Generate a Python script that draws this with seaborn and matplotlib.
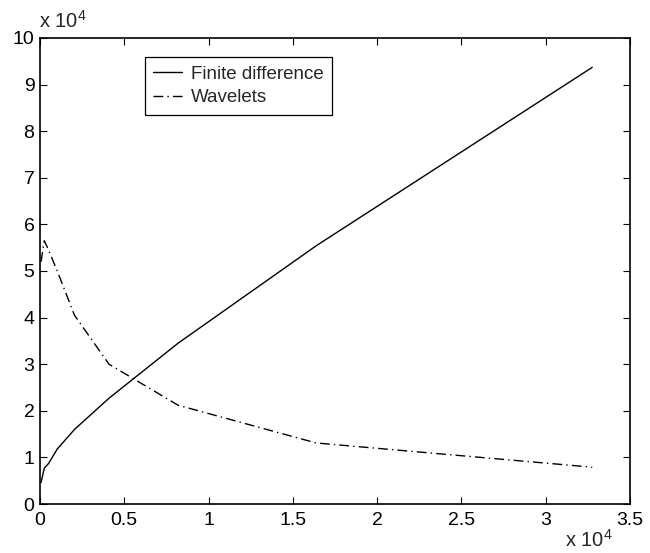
import matplotlib
matplotlib.use("Agg")
import matplotlib.pyplot as plt
import seaborn as sns
import pandas as pd

# Problem size (units of 1e4) and cost (units of 1e4) for both methods
sizes = [0.0064, 0.0256, 0.0512, 0.1024, 0.2048, 0.4096, 0.8192, 1.6384, 3.2768]
finite_difference = [0.46, 0.77, 0.87, 1.18, 1.60, 2.27, 3.45, 5.54, 9.37]
wavelets = [5.20, 5.65, 5.45, 5.00, 4.05, 3.00, 2.12, 1.31, 0.79]
series_names = ["Finite difference", "Wavelets"]
x_ticks = [0, 0.5, 1, 1.5, 2, 2.5, 3, 3.5]
y_ticks = [0, 1, 2, 3, 4, 5, 6, 7, 8, 9, 10]

df = pd.DataFrame({
    "size": sizes * 2,
    "cost": finite_difference + wavelets,
    "method": [series_names[0]] * len(sizes) + [series_names[1]] * len(sizes),
})

sns.set_style("ticks")
plt.rcParams["font.family"] = ["Liberation Sans", "DejaVu Sans"]
plt.rcParams["mathtext.fontset"] = "custom"
plt.rcParams["mathtext.rm"] = "Liberation Sans"

fig = plt.figure(figsize=(6.5, 5.53), dpi=100)
ax = fig.add_axes([0.0615, 0.0886, 0.9075, 0.8427])

sns.lineplot(
    data=df, x="size", y="cost", style="method", ax=ax,
    color="black", linewidth=1.0, estimator=None, sort=False,
    dashes={series_names[0]: "", series_names[1]: (7, 3, 1, 3)},
    legend=False,
)

ax.set_xlim(0, 3.5)
ax.set_ylim(0, 10)
ax.set_xticks(x_ticks)
ax.set_yticks(y_ticks)
ax.set_xticklabels([f"{t:g}" for t in x_ticks])
ax.set_yticklabels([f"{t:g}" for t in y_ticks])
ax.set_xlabel("")
ax.set_ylabel("")
ax.tick_params(direction="in", length=5, width=0.8, labelsize=14,
               top=True, right=True, colors="black")
ax.tick_params(axis="x", pad=6)
ax.tick_params(axis="y", pad=4)
for s in ax.spines.values():
    s.set_visible(True)
    s.set_linewidth(1.2)
    s.set_color("black")

# Legend with a plain rectangular frame
lines = ax.get_lines()
leg = ax.legend(lines[:2], series_names, loc="upper left",
                bbox_to_anchor=(0.178, 0.959), borderaxespad=0,
                fontsize=13.5, frameon=True, fancybox=False,
                edgecolor="black", framealpha=1, handlelength=1.5,
                borderpad=0.45, labelspacing=0.35, handletextpad=0.5)
leg.get_frame().set_linewidth(0.9)

# Exponent annotations for both axes
fig.text(0.060, 0.949, r"x 10$^{4}$", fontsize=14.5, ha="left", va="baseline")
fig.text(0.943, 0.011, r"x 10$^{4}$", fontsize=14.5, ha="right", va="baseline")

fig.savefig("out.png", dpi=100, facecolor="white")
